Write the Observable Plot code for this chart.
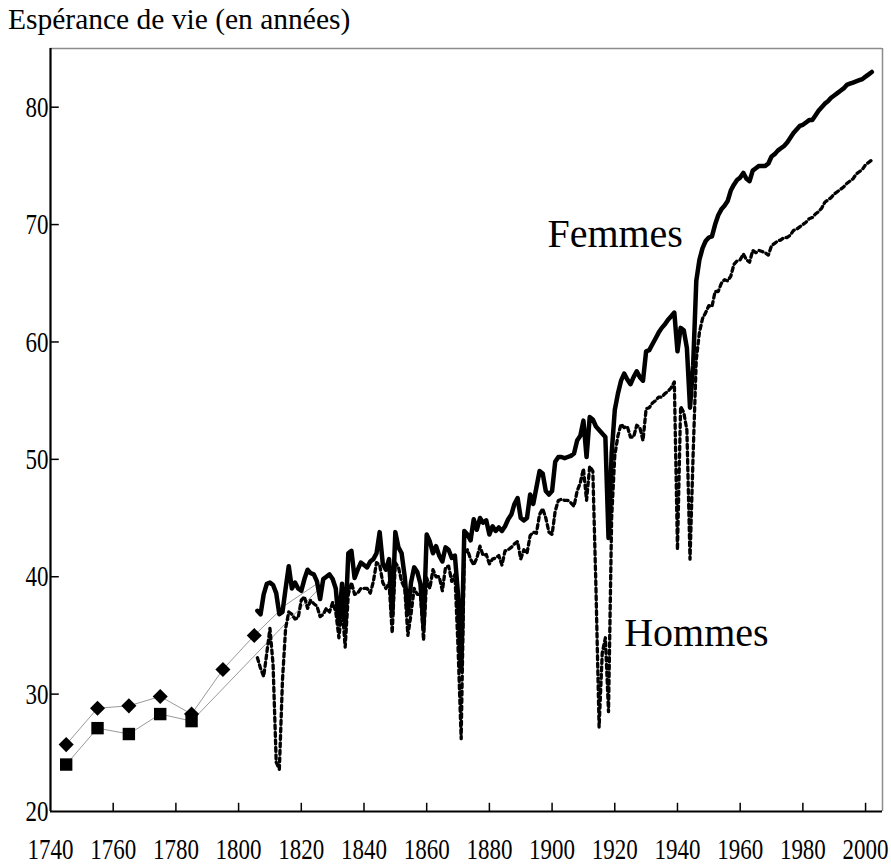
<!DOCTYPE html>
<html><head><meta charset="utf-8">
<script src="https://cdn.jsdelivr.net/npm/d3@7"></script>
<script src="https://cdn.jsdelivr.net/npm/@observablehq/plot@0.6"></script>
<style>
body{margin:0;background:#fff;}
#wrap{position:relative;width:891px;height:866px;overflow:hidden;}
#title{position:absolute;left:8px;top:3px;font-family:"Liberation Serif",serif;font-size:29.5px;color:#000;white-space:nowrap;}
#chart{position:absolute;left:0;top:0;}
#chart svg text{font-family:"Liberation Serif","Times New Roman",serif;}
</style></head><body>
<div id="wrap"><div id="chart"></div><div id="title">Espérance de vie (en années)</div></div>
<script>
// Annual series, first year 1806, last 2002
const firstYear = 1806;
const femmes = [
  37.1,36.8,38.5,39.4,39.5,39.3,38.6,36.8,37.0,39.0,          // 1806-1815
  40.9,39.0,39.5,39.0,38.8,39.8,40.6,40.3,40.2,39.6,          // 1816-1825
  38.1,39.8,40.0,40.2,39.8,39.0,36.0,39.4,35.8,42.0,          // 1826-1835
  42.2,39.9,40.6,41.2,41.0,40.8,41.3,41.5,42.0,43.8,          // 1836-1845
  41.1,40.6,41.5,36.8,43.8,42.5,42.0,40.0,36.8,39.5,          // 1846-1855
  40.8,40.4,39.4,35.8,43.6,43.0,42.0,42.6,41.8,41.3,          // 1856-1865
  42.5,42.3,41.6,41.8,38.5,32.0,43.9,43.6,43.1,44.9,          // 1866-1875
  44.0,45.0,44.6,44.8,43.6,44.3,43.9,44.2,43.9,44.3,          // 1876-1885
  44.9,45.3,46.2,46.7,45.0,44.8,45.0,47.0,46.2,47.6,          // 1886-1895
  49.0,48.8,47.3,47.0,47.3,49.8,50.2,50.2,50.1,50.2,          // 1896-1905
  50.3,50.5,51.6,52.0,53.3,50.2,53.6,53.4,52.8,52.5,          // 1906-1915
  52.2,51.9,43.3,50.5,54.2,55.6,56.7,57.3,56.8,56.4,          // 1916-1925
  57.0,57.5,57.0,56.7,59.2,59.3,59.8,60.3,60.8,61.2,          // 1926-1935
  61.5,61.9,62.2,62.5,59.2,61.2,61.0,59.5,54.4,58.0,          // 1936-1945
  65.2,67.0,68.0,68.6,68.9,69.0,70.0,70.8,71.3,71.6,          // 1946-1955
  72.0,72.9,73.4,73.8,74.0,74.4,73.9,73.7,74.6,74.8,          // 1956-1965
  75.0,75.0,75.0,75.2,75.8,76.0,76.3,76.5,76.7,77.0,          // 1966-1975
  77.4,77.8,78.1,78.4,78.5,78.7,78.9,78.9,79.3,79.7,          // 1976-1985
  80.0,80.3,80.5,80.8,81.0,81.2,81.4,81.6,81.9,82.0,          // 1986-1995
  82.1,82.2,82.3,82.4,82.6,82.8,83.0                          // 1996-2002
];
const hommes = [
  33.1,32.2,31.5,33.5,35.6,32.5,24.2,23.6,31.2,35.6,          // 1806-1815
  37.0,36.8,36.4,36.5,38.0,38.3,37.3,38.0,37.7,37.5,          // 1816-1825
  36.6,36.8,37.3,37.0,37.8,37.0,34.8,37.5,34.0,38.5,          // 1826-1835
  39.5,38.5,38.6,39.0,39.0,39.0,38.6,39.6,41.2,41.0,          // 1836-1845
  39.5,39.0,39.5,35.2,41.2,40.8,39.6,39.0,35.0,36.8,          // 1846-1855
  39.0,38.5,38.5,34.6,39.9,39.0,40.6,40.0,40.0,38.8,          // 1856-1865
  40.8,40.9,39.6,40.2,34.0,26.2,42.0,42.3,41.5,41.0,          // 1866-1875
  41.6,42.6,41.8,41.9,41.1,41.5,41.6,41.8,41.0,42.2,          // 1876-1885
  42.3,42.5,42.8,43.0,41.5,42.3,42.0,43.5,43.8,43.7,          // 1886-1895
  45.3,45.8,45.0,43.8,43.6,45.6,46.5,46.6,46.5,46.5,          // 1896-1905
  46.3,46.0,47.3,48.0,49.2,46.5,49.4,49.0,39.0,27.2,          // 1906-1915
  33.5,34.8,28.5,45.0,50.3,52.0,53.0,52.7,52.8,51.9,          // 1916-1925
  51.9,52.9,52.7,51.6,54.3,54.4,54.8,55.0,55.3,55.3,          // 1926-1935
  55.6,55.8,56.1,56.6,42.3,54.5,54.0,52.5,41.5,50.5,          // 1936-1945
  58.5,60.8,62.0,62.5,63.1,63.0,64.3,64.3,65.0,65.3,          // 1946-1955
  65.2,65.6,66.6,66.9,67.0,67.5,67.0,66.8,67.8,67.6,          // 1956-1965
  67.8,67.7,67.6,67.4,68.2,68.4,68.6,68.7,68.9,68.9,          // 1966-1975
  69.1,69.5,69.6,69.8,70.0,70.2,70.5,70.6,70.9,71.1,          // 1976-1985
  71.4,71.9,72.1,72.3,72.6,72.8,73.0,73.2,73.5,73.7,          // 1986-1995
  73.9,74.3,74.5,74.7,75.1,75.3,75.5                          // 1996-2002
];
// Decade estimates (mid-decade)
const decFYears = [1745,1755,1765,1775,1785,1795,1805,1815,1825];
const decFValues = [25.7,28.8,29.0,29.8,28.3,32.1,35.0,37.6,39.4];
const decFMarked = 7;
const decMYears = [1745,1755,1765,1775,1785,1825];
const decMValues = [24.0,27.1,26.6,28.3,27.7,38.8];
const decMMarked = 5;

const xTicks = [1740,1760,1780,1800,1820,1840,1860,1880,1900,1920,1940,1960,1980,2000];
const yTicks = [20,30,40,50,60,70,80];
const labels = [
  {x: 1898.5, y: 69.2, text: "Femmes"},
  {x: 1923.0, y: 35.2, text: "Hommes"}
];

const fData = femmes.map((v, i) => ({year: firstYear + i, v}));
const mData = hommes.map((v, i) => ({year: firstYear + i, v}));
const dF = decFYears.map((y, i) => ({year: y, v: decFValues[i]}));
const dM = decMYears.map((y, i) => ({year: y, v: decMValues[i]}));

const serif = '"Liberation Serif", "Times New Roman", serif';
const xMax = 2005.4;
const chart = Plot.plot({
  width: 891, height: 866,
  marginLeft: 50, marginRight: 9, marginTop: 48, marginBottom: 55,
  style: {fontFamily: serif, background: "white", color: "black", overflow: "visible"},
  x: {domain: [1740, xMax]},
  y: {domain: [20, 85]},
  marks: [
    Plot.ruleY([85], {stroke: "#8c8c8c", strokeWidth: 1.5}),
    Plot.ruleX([xMax], {stroke: "#8c8c8c", strokeWidth: 1.5}),
    Plot.ruleX(xTicks.slice(1), {y1: 20, y2: 20.7, stroke: "black", strokeWidth: 1.5}),
    Plot.ruleY(yTicks.slice(1), {x1: 1740, x2: 1742.8, stroke: "black", strokeWidth: 1.5}),
    Plot.axisX({ticks: xTicks, tickSize: 0, tickPadding: 28.5, fontSize: 23, fontFamily: serif, tickFormat: d => String(d)}),
    Plot.axisY({ticks: yTicks, tickSize: 0, tickPadding: 2, fontSize: 23, fontFamily: serif}),
    Plot.line(dF, {x: "year", y: "v", stroke: "#999", strokeWidth: 1}),
    Plot.line(dM, {x: "year", y: "v", stroke: "#999", strokeWidth: 1}),
    Plot.dot(dF.slice(0, decFMarked), {x: "year", y: "v", symbol: "diamond2", r: 6.8, fill: "black", stroke: "none"}),
    Plot.dot(dM.slice(0, decMMarked), {x: "year", y: "v", symbol: "square", r: 7, fill: "black", stroke: "none"}),
    Plot.line(mData, {x: "year", y: "v", stroke: "black", strokeWidth: 3.3, strokeDasharray: "4,3.5"}),
    Plot.line(fData, {x: "year", y: "v", stroke: "black", strokeWidth: 4.5}),
    Plot.ruleX([1740], {stroke: "black", strokeWidth: 2.2}),
    Plot.ruleY([20], {stroke: "black", strokeWidth: 2.2}),
    Plot.text(labels, {x: "x", y: "y", text: "text", fontSize: 40, fontFamily: serif, textAnchor: "start", lineAnchor: "middle", fill: "black"})
  ]
});
document.getElementById("chart").appendChild(chart);

// Tick labels in the reference are vertically stretched: wrap each in a scaling group about its own centre
const stretch = 1.3;
const NS = "http://www.w3.org/2000/svg";
chart.querySelectorAll('g[aria-label$="tick label"] text').forEach(t => {
  const r = t.getBoundingClientRect();
  const parent = t.parentNode;
  const ctm = parent.getScreenCTM();
  if (!ctm || r.width === 0) return;
  const p = new DOMPoint(r.x + r.width / 2, r.y + r.height / 2).matrixTransform(ctm.inverse());
  const g = document.createElementNS(NS, "g");
  g.setAttribute("transform", `translate(${p.x},${p.y}) scale(1,${stretch}) translate(${-p.x},${-p.y})`);
  parent.insertBefore(g, t);
  g.appendChild(t);
});
</script>
</body></html>
